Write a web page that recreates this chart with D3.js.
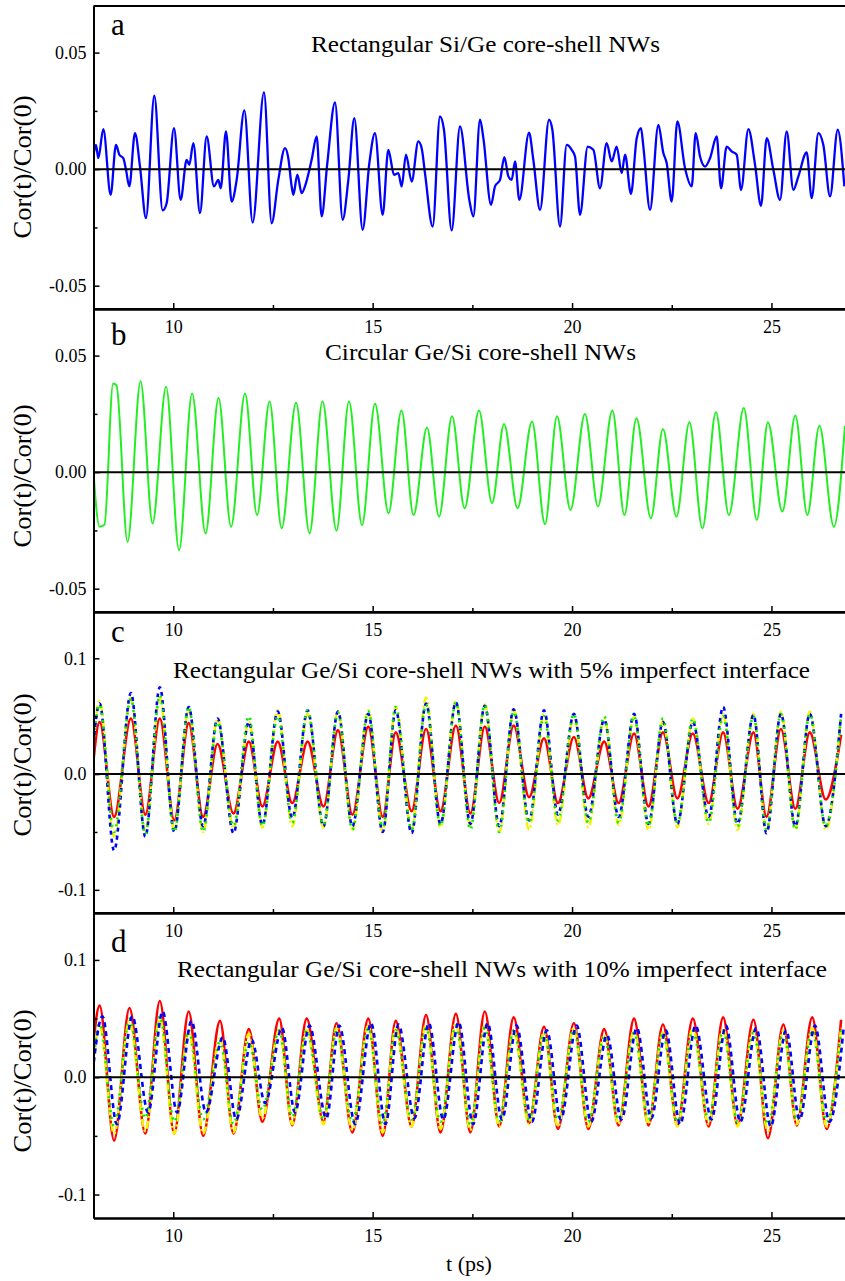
<!DOCTYPE html>
<html>
<head>
<meta charset="utf-8">
<script src="https://cdn.jsdelivr.net/npm/d3@7"></script>
<style>
  body { margin: 0; background: #fff; }
</style>
</head>
<body>
<script>
// ---- data (t in ps, value = Cor(t)/Cor(0)) ----

// panel a: rectangular Si/Ge
var aT = [7.996, 8.062, 8.121, 8.246, 8.430, 8.564, 8.648, 8.748, 8.815, 8.898, 9.040, 9.166, 9.316, 9.525, 9.734, 9.834,
  10.018, 10.185, 10.336, 10.403, 10.503, 10.670, 10.838, 11.021, 11.130, 11.189, 11.322, 11.464, 11.590, 11.782, 11.991,
  12.275, 12.467, 12.634, 12.802, 12.885, 12.969, 13.011, 13.111, 13.220, 13.328, 13.470, 13.596, 13.721, 13.863, 14.056,
  14.248, 14.390, 14.540, 14.749, 14.917, 15.058, 15.251, 15.393, 15.535, 15.644, 15.727, 15.836, 15.978, 16.145, 16.229,
  16.312, 16.505, 16.688, 16.788, 16.981, 17.190, 17.424, 17.525, 17.692, 17.776, 17.968, 18.068, 18.194, 18.302, 18.403,
  18.486, 18.570, 18.678, 18.921, 19.029, 19.197, 19.422, 19.506, 19.698, 19.865, 19.991, 20.074, 20.200, 20.392, 20.534,
  20.701, 20.868, 20.994, 21.119, 21.245, 21.328, 21.478, 21.621, 21.729, 21.788, 21.955, 22.164, 22.289, 22.373, 22.498,
  22.640, 22.833, 23.000, 23.100, 23.209, 23.334, 23.459, 23.627, 23.735, 23.877, 24.003, 24.128, 24.237, 24.421, 24.588,
  24.738, 24.881, 25.047, 25.215, 25.382, 25.549, 25.675, 25.883, 26.009, 26.176, 26.301, 26.469, 26.661, 26.828];
var aV = [0.0054, 0.0104, 0.0047, 0.0172, -0.0110, 0.0104, 0.0062, 0.0047, -0.0003, -0.0074, 0.0155, 0.0011, -0.0210, 0.0315, -0.0177, -0.0146,
  0.0176, -0.0132, 0.0040, 0.0019, 0.0112, -0.0189, 0.0140, -0.0074, -0.0046, -0.0082, 0.0162, -0.0139, -0.0046, 0.0252, -0.0229,
  0.0329, -0.0232, -0.0046, 0.0090, 0.0047, -0.0074, -0.0110, -0.0024, -0.0103, -0.0060, 0.0040, 0.0140, -0.0203, 0.0026, 0.0286,
  -0.0217, -0.0046, 0.0219, -0.0260, 0.0026, 0.0155, -0.0196, 0.0083, -0.0024, -0.0017, -0.0074, 0.0062, -0.0053, 0.0119, 0.0090,
  -0.0017, -0.0246, 0.0226, 0.0169, -0.0263, 0.0183, -0.0132, -0.0203, 0.0212, 0.0133, -0.0153, -0.0074, -0.0046, 0.0052, -0.0031,
  -0.0046, 0.0033, -0.0132, 0.0157, 0.0040, -0.0175, 0.0212, 0.0169, -0.0246, 0.0104, 0.0083, 0.0054, -0.0196, 0.0097, 0.0083,
  -0.0082, 0.0112, 0.0033, 0.0097, -0.0017, 0.0062, -0.0106, 0.0133, 0.0176, 0.0097, -0.0175, 0.0190, 0.0069, 0.0026, -0.0139,
  0.0205, 0.0004, -0.0074, 0.0155, 0.0054, 0.0011, 0.0047, 0.0140, -0.0082, 0.0097, 0.0076, 0.0062, -0.0089, 0.0172, 0.0019,
  -0.0157, 0.0133, -0.0003, -0.0132, 0.0162, -0.0089, -0.0031, 0.0072, -0.0124, 0.0155, 0.0104, -0.0117, 0.0169, -0.0074];

// panel b: circular Ge/Si
var bT = [7.972, 8.153, 8.274, 8.492, 8.576, 8.854, 9.180, 9.481, 9.820, 10.146, 10.472, 10.810, 11.135, 11.449, 11.800,
  12.101, 12.415, 12.717, 13.079, 13.417, 13.743, 14.093, 14.407, 14.733, 15.059, 15.397, 15.723, 16.025, 16.363, 16.665,
  16.991, 17.305, 17.667, 17.993, 18.295, 18.633, 18.995, 19.321, 19.623, 19.960, 20.323, 20.649, 21.011, 21.313, 21.615,
  21.977, 22.279, 22.617, 22.943, 23.269, 23.607, 23.933, 24.307, 24.633, 24.911, 25.273, 25.599, 25.900, 26.202, 26.565, 26.843];
var bV = [0.0069, -0.0234, -0.0226, 0.0380, 0.0372, -0.0299, 0.0390, -0.0220, 0.0366, -0.0335, 0.0337, -0.0263, 0.0318, -0.0234, 0.0337,
  -0.0184, 0.0303, -0.0241, 0.0298, -0.0263, 0.0303, -0.0251, 0.0303, -0.0227, 0.0293, -0.0176, 0.0264, -0.0184, 0.0192, -0.0191,
  0.0240, -0.0155, 0.0264, -0.0133, 0.0207, -0.0155, 0.0217, -0.0223, 0.0240, -0.0162, 0.0250, -0.0147, 0.0264, -0.0184, 0.0231,
  -0.0198, 0.0185, -0.0191, 0.0214, -0.0241, 0.0257, -0.0184, 0.0275, -0.0205, 0.0214, -0.0169, 0.0243, -0.0184, 0.0199, -0.0234, 0.0199];

// panel c: rectangular Ge/Si, 5% imperfect interface
var cT = [7.98, 8.153, 8.516, 8.938, 9.300, 9.663, 10.025, 10.387, 10.749, 11.111, 11.510, 11.896, 12.234, 12.620, 12.983,
  13.369, 13.767, 14.130, 14.492, 14.890, 15.252, 15.578, 15.977, 16.339, 16.701, 17.087, 17.450, 17.812, 18.174, 18.536,
  18.923, 19.297, 19.647, 20.046, 20.408, 20.806, 21.168, 21.555, 21.917, 22.279, 22.641, 23.028, 23.426, 23.788, 24.150,
  24.549, 24.875, 25.237, 25.599, 25.961, 26.360, 26.746];
var cRed = [0.005, 0.045, -0.037, 0.048, -0.035, 0.048, -0.040, 0.044, -0.037, 0.026, -0.034, 0.028, -0.028, 0.028, -0.025,
  0.028, -0.028, 0.038, -0.035, 0.041, -0.037, 0.036, -0.032, 0.039, -0.032, 0.042, -0.034, 0.041, -0.025, 0.042,
  -0.020, 0.031, -0.025, 0.032, -0.021, 0.028, -0.025, 0.035, -0.028, 0.036, -0.021, 0.035, -0.025, 0.036, -0.030,
  0.036, -0.037, 0.039, -0.030, 0.036, -0.022, 0.034];
var cBlue = [0.02, 0.061, -0.066, 0.070, -0.054, 0.075, -0.050, 0.058, -0.045, 0.048, -0.051, 0.045, -0.044, 0.054, -0.038,
  0.055, -0.045, 0.054, -0.045, 0.052, -0.050, 0.055, -0.051, 0.061, -0.043, 0.062, -0.043, 0.059, -0.045, 0.056,
  -0.040, 0.055, -0.035, 0.052, -0.037, 0.047, -0.037, 0.052, -0.043, 0.045, -0.043, 0.045, -0.037, 0.058, -0.043,
  0.051, -0.051, 0.052, -0.045, 0.052, -0.045, 0.052];
var cGreen = [0.02, 0.060, -0.050, 0.065, -0.052, 0.068, -0.050, 0.058, -0.050, 0.045, -0.045, 0.050, -0.045, 0.050, -0.042,
  0.055, -0.044, 0.053, -0.048, 0.054, -0.046, 0.058, -0.048, 0.060, -0.045, 0.062, -0.048, 0.060, -0.050, 0.054,
  -0.042, 0.050, -0.040, 0.052, -0.042, 0.050, -0.042, 0.050, -0.045, 0.048, -0.042, 0.048, -0.042, 0.050, -0.045,
  0.050, -0.048, 0.052, -0.048, 0.052, -0.045, 0.050];
var cYellow = [0.025, 0.063, -0.054, 0.066, -0.050, 0.066, -0.048, 0.056, -0.050, 0.048, -0.047, 0.045, -0.046, 0.055, -0.045,
  0.052, -0.046, 0.054, -0.048, 0.055, -0.050, 0.058, -0.048, 0.066, -0.046, 0.063, -0.045, 0.060, -0.050, 0.056,
  -0.048, 0.052, -0.044, 0.050, -0.046, 0.048, -0.044, 0.050, -0.048, 0.046, -0.046, 0.048, -0.043, 0.052, -0.048,
  0.052, -0.050, 0.054, -0.048, 0.054, -0.048, 0.052];

// panel d: rectangular Ge/Si, 10% imperfect interface
var dT = [7.98, 8.153, 8.516, 8.902, 9.300, 9.663, 10.025, 10.387, 10.749, 11.172, 11.510, 11.896, 12.234, 12.657, 12.983,
  13.345, 13.767, 14.093, 14.492, 14.890, 15.252, 15.578, 15.977, 16.339, 16.701, 17.087, 17.450, 17.812, 18.174, 18.536,
  18.923, 19.297, 19.647, 20.046, 20.408, 20.806, 21.168, 21.555, 21.917, 22.279, 22.641, 23.028, 23.426, 23.788, 24.150,
  24.549, 24.911, 25.298, 25.636, 26.022, 26.384, 26.746];
var dBlueT = [7.98, 8.223, 8.586, 8.972, 9.370, 9.733, 10.095, 10.457, 10.819, 11.242, 11.580, 11.966, 12.304, 12.727, 13.053,
  13.415, 13.837, 14.163, 14.562, 14.960, 15.322, 15.648, 16.047, 16.409, 16.771, 17.157, 17.520, 17.882, 18.244, 18.606,
  18.993, 19.367, 19.717, 20.116, 20.478, 20.876, 21.238, 21.625, 21.987, 22.349, 22.711, 23.098, 23.496, 23.858, 24.220,
  24.619, 24.981, 25.368, 25.706, 26.092, 26.454, 26.816];
var dRed = [0.024, 0.061, -0.054, 0.059, -0.048, 0.065, -0.048, 0.056, -0.050, 0.048, -0.048, 0.041, -0.038, 0.050, -0.041,
  0.050, -0.038, 0.046, -0.047, 0.050, -0.050, 0.048, -0.042, 0.053, -0.047, 0.054, -0.047, 0.056, -0.042, 0.051,
  -0.039, 0.043, -0.044, 0.046, -0.044, 0.041, -0.041, 0.050, -0.041, 0.045, -0.041, 0.050, -0.042, 0.051, -0.041,
  0.049, -0.052, 0.045, -0.041, 0.051, -0.044, 0.049];
var dBlue = [0.005, 0.052, -0.040, 0.052, -0.030, 0.056, -0.030, 0.048, -0.030, 0.034, -0.036, 0.032, -0.022, 0.042, -0.030,
  0.044, -0.035, 0.044, -0.040, 0.046, -0.040, 0.045, -0.035, 0.046, -0.036, 0.047, -0.040, 0.046, -0.036, 0.044,
  -0.038, 0.040, -0.036, 0.044, -0.038, 0.036, -0.036, 0.042, -0.035, 0.040, -0.040, 0.044, -0.036, 0.044, -0.038,
  0.042, -0.042, 0.040, -0.036, 0.044, -0.038, 0.044];
var dGreen = [0.008, 0.046, -0.042, 0.050, -0.035, 0.052, -0.038, 0.040, -0.036, 0.030, -0.040, 0.030, -0.028, 0.040, -0.034,
  0.040, -0.036, 0.040, -0.038, 0.042, -0.040, 0.040, -0.036, 0.042, -0.038, 0.044, -0.040, 0.042, -0.038, 0.040,
  -0.036, 0.038, -0.036, 0.040, -0.038, 0.035, -0.036, 0.038, -0.036, 0.038, -0.038, 0.040, -0.036, 0.040, -0.038,
  0.038, -0.040, 0.038, -0.036, 0.040, -0.038, 0.040];
var dYellow = [0.006, 0.044, -0.048, 0.048, -0.046, 0.050, -0.048, 0.038, -0.048, 0.033, -0.047, 0.037, -0.035, 0.040, -0.040,
  0.040, -0.040, 0.042, -0.045, 0.044, -0.047, 0.042, -0.042, 0.045, -0.044, 0.046, -0.045, 0.044, -0.042, 0.040,
  -0.040, 0.038, -0.042, 0.042, -0.042, 0.036, -0.040, 0.040, -0.040, 0.038, -0.042, 0.042, -0.040, 0.042, -0.042,
  0.040, -0.046, 0.040, -0.040, 0.042, -0.042, 0.042];

var xMajor = [10, 15, 20, 25];
var xMinor = [12.5, 17.5, 22.5];
var titles = ["Rectangular Si/Ge core-shell NWs",
  "Circular Ge/Si core-shell NWs",
  "Rectangular Ge/Si core-shell NWs with 5% imperfect interface",
  "Rectangular Ge/Si core-shell NWs with 10% imperfect interface"];

// ---- layout ----
var width = 845, height = 1281;
var left = 93.5;
var serif = "'Liberation Serif', 'Times New Roman', Tinos, 'DejaVu Serif', serif";

var svg = d3.select("body").append("svg")
  .attr("width", width)
  .attr("height", height);

var x = d3.scaleLinear().domain([8, 27]).range([left, left + 19 * 39.88]);

var panels = [
  { top: 6, bottom: 309, domain: [-0.06, 0.07], major: [-0.05, 0, 0.05], minor: [-0.025, 0.025], digits: 2,
    letter: "a", letterY: 35, titleX: 311, titleY: 52, titleLen: 349, ylabY: 167,
    series: [{ t: aT, v: aV, color: "#0000ff", w: 2.3, dash: null }] },
  { top: 309, bottom: 612, domain: [-0.06, 0.07], major: [-0.05, 0, 0.05], minor: [-0.025, 0.025], digits: 2,
    letter: "b", letterY: 345, titleX: 325, titleY: 360, titleLen: 311, ylabY: 476,
    series: [{ t: bT, v: bV, color: "#22ee22", w: 2, dash: null }] },
  { top: 612, bottom: 913, domain: [-0.12, 0.14], major: [-0.1, 0, 0.1], minor: [-0.05, 0.05], digits: 1,
    letter: "c", letterY: 642, titleX: 173, titleY: 678, titleLen: 637, ylabY: 765,
    series: [
      { t: cT, v: cRed, color: "#ff0000", w: 2.6, dash: null },
      { t: cT, v: cYellow, color: "#f4f400", w: 2.6, dash: "8,3,2,3" },
      { t: cT, v: cBlue, color: "#0000ff", w: 2.6, dash: "4,4" },
      { t: cT, v: cGreen, color: "#00ee00", w: 2.6, dash: "2,5" }] },
  { top: 913, bottom: 1218, domain: [-0.12, 0.14], major: [-0.1, 0, 0.1], minor: [-0.05, 0.05], digits: 1,
    letter: "d", letterY: 952, titleX: 177, titleY: 977, titleLen: 650, ylabY: 1081,
    series: [
      { t: dT, v: dRed, color: "#ff0000", w: 2.6, dash: null },
      { t: dT, v: dYellow, color: "#f4f400", w: 2.6, dash: "8,3,2,3" },
      { t: dT, v: dGreen, color: "#00ee00", w: 2.6, dash: "2,5" },
      { t: dBlueT, v: dBlue, color: "#0000ff", w: 2.6, dash: "5,4" }] }
];

panels.forEach(function (p, i) {
  var y = d3.scaleLinear().domain(p.domain).range([p.bottom, p.top]);
  var g = svg.append("g");

  g.append("clipPath").attr("id", "clip" + i)
    .append("rect")
    .attr("x", left).attr("y", p.top)
    .attr("width", width - left).attr("height", p.bottom - p.top);

  var line = d3.line()
    .x(function (d) { return x(d[0]); })
    .y(function (d) { return y(d[1]); })
    .curve(d3.curveMonotoneX);

  var plot = g.append("g").attr("clip-path", "url(#clip" + i + ")");

  p.series.forEach(function (s) {
    plot.append("path")
      .datum(d3.zip(s.t, s.v))
      .attr("d", line)
      .attr("fill", "none")
      .attr("stroke", s.color)
      .attr("stroke-width", s.w)
      .attr("stroke-linejoin", "round")
      .attr("stroke-dasharray", s.dash);
  });

  // zero line
  g.append("line")
    .attr("x1", left).attr("x2", width)
    .attr("y1", y(0)).attr("y2", y(0))
    .attr("stroke", "#000").attr("stroke-width", 2);

  // frame top
  g.append("line")
    .attr("x1", left).attr("x2", width)
    .attr("y1", p.top).attr("y2", p.top)
    .attr("stroke", "#000").attr("stroke-width", 2);

  // left axis, inward ticks
  g.append("g")
    .attr("transform", "translate(" + left + ",0)")
    .call(d3.axisLeft(y).tickValues(p.major).tickSizeInner(-6).tickSizeOuter(0).tickPadding(7)
      .tickFormat(function (d) { return d.toFixed(p.digits); }));
  g.append("g")
    .attr("transform", "translate(" + left + ",0)")
    .call(d3.axisLeft(y).tickValues(p.minor).tickSizeInner(-4).tickSizeOuter(0).tickFormat(""));

  // bottom axis, inward ticks
  g.append("g")
    .attr("transform", "translate(0," + p.bottom + ")")
    .call(d3.axisBottom(x).tickValues(xMajor).tickSizeInner(-6).tickSizeOuter(0).tickPadding(11)
      .tickFormat(d3.format("d")));
  g.append("g")
    .attr("transform", "translate(0," + p.bottom + ")")
    .call(d3.axisBottom(x).tickValues(xMinor).tickSizeInner(-4).tickSizeOuter(0).tickFormat(""));

  g.selectAll(".domain").attr("stroke-width", 2);
  g.selectAll(".tick line").attr("stroke-width", 1.5);
  g.selectAll(".tick text")
    .style("font-family", serif)
    .style("font-size", "18px");

  // panel letter
  g.append("text")
    .attr("x", 111).attr("y", p.letterY)
    .style("font-family", serif)
    .style("font-size", "31px")
    .text(p.letter);

  // title
  g.append("text")
    .attr("x", p.titleX).attr("y", p.titleY)
    .style("font-family", serif)
    .style("font-size", "24px")
    .attr("textLength", p.titleLen)
    .attr("lengthAdjust", "spacingAndGlyphs")
    .text(titles[i]);

  // y label
  g.append("text")
    .attr("transform", "translate(31," + p.ylabY + ") rotate(-90)")
    .attr("text-anchor", "middle")
    .style("font-family", serif)
    .style("font-size", "25px")
    .attr("textLength", 143)
    .attr("lengthAdjust", "spacingAndGlyphs")
    .text("Cor(t)/Cor(0)");
});

svg.append("text")
  .attr("x", 469).attr("y", 1271)
  .attr("text-anchor", "middle")
  .style("font-family", serif)
  .style("font-size", "22px")
  .text("t (ps)");
</script>
</body>
</html>
